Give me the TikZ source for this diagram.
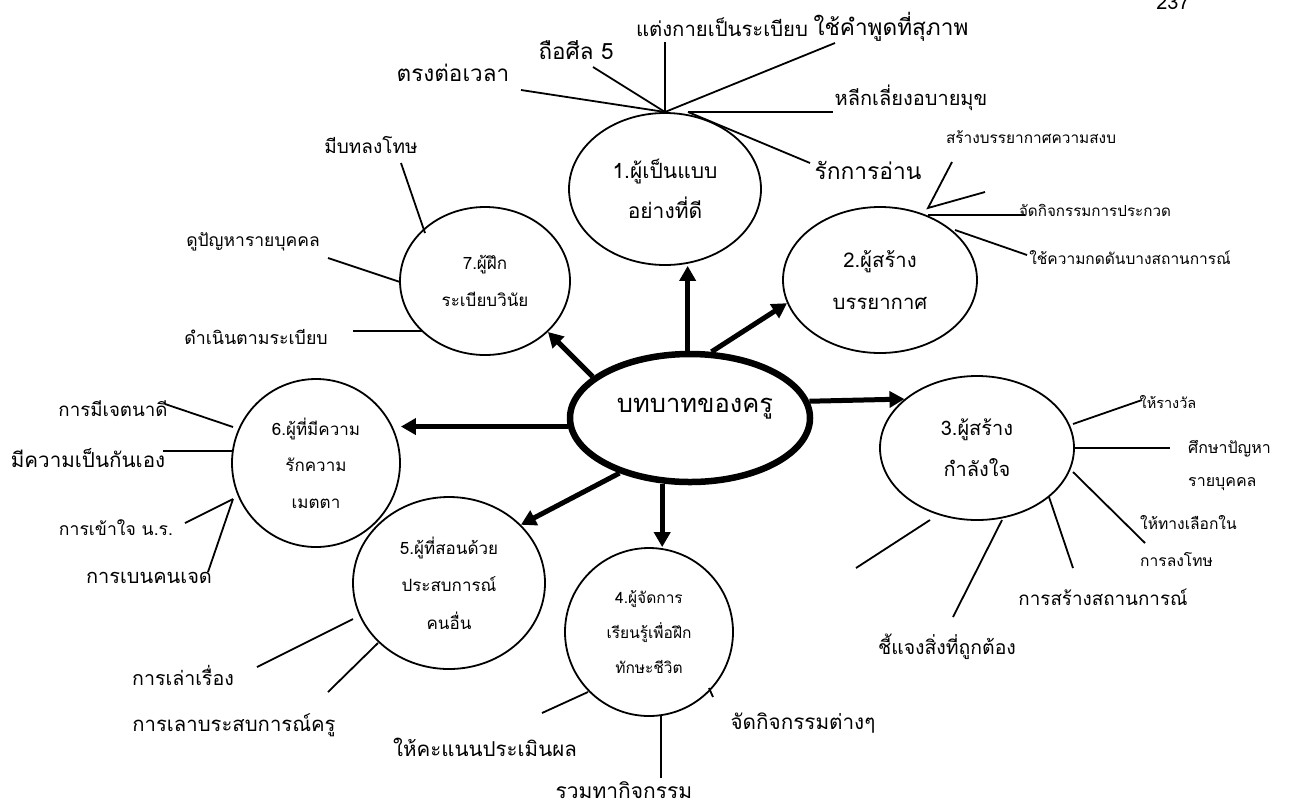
\documentclass[tikz,border=0pt]{standalone}
\usepackage{fontspec}
\newfontfamily\thai[Script=Thai]{Loma}
\newcommand\thf[2]{\thai\fontsize{#1}{#2}\selectfont}
\usetikzlibrary{shapes.geometric,arrows.meta,calc}
\tikzset{
  spoke/.style={line width=1.8pt},
  role/.style={draw, ellipse, line width=1.8pt, inner sep=0pt, align=center},
  arr/.style={line width=5pt, -{Triangle[length=15pt,width=16pt]}},
  lab/.style={inner sep=0pt, align=center},
  fs/.style={font=\thf{#1}{26}},
}
\begin{document}
\begin{tikzpicture}[x=1pt,y=-1pt]
\useasboundingbox (0,0) rectangle (1289,807);
% page number
\node[lab,fs=20] (pg) at (1173,2) {237};
% central node
\node[draw, ellipse, line width=6.5pt, minimum width=240pt, minimum height=128pt, inner sep=0pt] (c) at (690,418) {};
\node[lab,fs=25.5] (ct) at (695,409) {บทบาทของครู};
% role ellipses
\node[role,font=\thf{21}{40},minimum width=192pt,minimum height=152pt] (e1) at (665,189) {1.ผู้เป็นแบบ\\อย่างที่ดี};
\node[role,font=\thf{20.3}{42},minimum width=194pt,minimum height=146pt] (e2) at (880,280) {2.ผู้สร้าง\\บรรยากาศ};
\node[role,font=\thf{20}{41},minimum width=194pt,minimum height=144pt] (e3) at (977,448) {3.ผู้สร้าง\\กำลังใจ};
\node[role,font=\thf{15.5}{35},minimum width=168pt,minimum height=168pt] (e4) at (649,632) {4.ผู้จัดการ\\เรียนรู้เพื่อฝึก\\ทักษะชีวิต};
\node[role,font=\thf{17}{37.5},minimum width=192pt,minimum height=172pt] (e5) at (449,583) {5.ผู้ที่สอนด้วย\\ประสบการณ์\\คนอื่น};
\node[role,font=\thf{17}{36.5},minimum width=168pt,minimum height=168pt] (e6) at (316,463) {6.ผู้ที่มีความ\\รักความ\\เมตตา};
\node[role,font=\thf{17}{37},minimum width=170pt,minimum height=148pt] (e7) at (485,281) {7.ผู้ฝึก\\ระเบียบวินัย};
% arrows
\draw[arr] (c.92) -- (c.92 |- e1.south);
\draw[arr] (c.72) -- (e2.194);
\draw[arr] (c.8) -- (e3.146);
\draw[arr] (c.247) -- (c.247 |- e4.north);
\draw[arr] (c.218) -- (e5.39);
\draw[arr] (c.184) -- (c.184 -| e6.east);
\draw[arr] (c.157) -- (e7.-39.5);
% labels around 1
\node[lab,fs=22.5] (t11) at (453,73) {ตรงต่อเวลา};
\node[lab,fs=22.4] (t12) at (576,50) {ถือศีล 5};
\node[lab,fs=20.3] (t13) at (722,27) {แต่งกายเป็นระเบียบ};
\node[lab,fs=22.6] (t14) at (891,27) {ใช้คำพูดที่สุภาพ};
\node[lab,fs=20] (t15) at (911,98) {หลีกเลี่ยงอบายมุข};
\node[lab,fs=22.8] (t16) at (868,170) {รักการอ่าน};
\coordinate (h1) at (665,112);
\coordinate (h1b) at (688,112);
\coordinate (s11) at (521,90);
\coordinate (s12) at (593,67);
\coordinate (s13) at (665,42);
\coordinate (s14) at (835,43);
\coordinate (s15) at (833,112);
\coordinate (s16) at (810,163);
\draw[spoke] (s11) -- (h1);
\draw[spoke] (s12) -- (h1);
\draw[spoke] (s13) -- (h1);
\draw[spoke] (s14) -- (h1);
\draw[spoke] (h1b) -- (s15);
\draw[spoke] (h1b) -- (s16);
% labels around 2
\node[lab,fs=15.4] (t21) at (1031,137) {สร้างบรรยากาศความสงบ};
\node[lab,fs=15.2] (t22) at (1095,210) {จัดกิจกรรมการประกวด};
\node[lab,fs=15.5] (t23) at (1130,258) {ใช้ความกดดันบางสถานการณ์};
\coordinate (h2) at (928,208);
\coordinate (s21) at (952,162);
\coordinate (s22) at (985,192);
\coordinate (s23a) at (928,215);
\coordinate (s23) at (1025,215);
\coordinate (s24a) at (955,230);
\coordinate (s24) at (1027,255);
\draw[spoke] (s21) -- (h2) -- (s22);
\draw[spoke] (s23a) -- (s23);
\draw[spoke] (s24a) -- (s24);
% labels around 3
\node[lab,fs=14.5] (t31) at (1168,402) {ให้รางวัล};
\node[lab,font=\thf{16}{33},anchor=west,align=left] (t32) at (1188,466) {ศึกษาปัญหา\\รายบุคคล};
\node[lab,font=\thf{15.6}{37},anchor=west,align=left] (t33) at (1140,541) {ให้ทางเลือกใน\\การลงโทษ};
\node[lab,fs=18.8] (t34) at (1103,597) {การสร้างสถานการณ์};
\node[lab,fs=19.4] (t35) at (947,647) {ชี้แจงสิ่งที่ถูกต้อง};
\coordinate (a31) at (1073,424); \coordinate (s31) at (1142,400);
\coordinate (a32) at (1073,448); \coordinate (s32) at (1170,448);
\coordinate (a33) at (1073,472); \coordinate (s33) at (1145,543);
\coordinate (a34) at (1049,497); \coordinate (s34) at (1073,568);
\coordinate (a35) at (1002,520); \coordinate (s35) at (953,617);
\coordinate (a36) at (930,520); \coordinate (s36) at (856,568);
\draw[spoke] (a31) -- (s31);
\draw[spoke] (a32) -- (s32);
\draw[spoke] (a33) -- (s33);
\draw[spoke] (a34) -- (s34);
\draw[spoke] (a35) -- (s35);
\draw[spoke] (a36) -- (s36);
% labels around 4
\node[lab,fs=20.5] (t41) at (485,747) {ให้คะแนนประเมินผล};
\node[lab,fs=21] (t42) at (624,790) {รวมทากิจกรรม};
\node[lab,fs=20.7] (t43) at (803,723) {จัดกิจกรรมต่างๆ};
\coordinate (a41) at (588,692); \coordinate (s41) at (542,713);
\coordinate (a42) at (661,715); \coordinate (s42) at (661,778);
\coordinate (a43) at (709,688); \coordinate (s43) at (713,697);
\draw[spoke] (a41) -- (s41);
\draw[spoke] (a42) -- (s42);
\draw[spoke] (a43) -- (s43);
% labels around 5
\node[lab,fs=19.6] (t51) at (183,675) {การเล่าเรื่อง};
\node[lab,fs=20.3] (t52) at (234,725) {การเลาบระสบการณ์ครู};
\coordinate (a51) at (353,619); \coordinate (s51) at (257,667);
\coordinate (a52) at (378,643); \coordinate (s52) at (328,692);
\draw[spoke] (a51) -- (s51);
\draw[spoke] (a52) -- (s52);
% labels around 6
\node[lab,fs=18.7] (t61) at (113,409) {การมีเจตนาดี};
\node[lab,fs=20.6] (t62) at (88,458) {มีความเป็นกันเอง};
\node[lab,fs=17.6] (t63) at (116,528) {การเข้าใจ น.ร.};
\node[lab,fs=20] (t64) at (149,578) {การเบนคนเจด};
\coordinate (a61) at (233,427); \coordinate (s61) at (165,404);
\coordinate (a62) at (232,451); \coordinate (s62) at (163,451);
\coordinate (a63) at (233,499); \coordinate (s63) at (185,523);
\coordinate (s64) at (208,572);
\draw[spoke] (a61) -- (s61);
\draw[spoke] (a62) -- (s62);
\draw[spoke] (a63) -- (s63);
\draw[spoke] (a63) -- (s64);
% labels around 7
\node[lab,fs=19] (t71) at (371,145) {มีบทลงโทษ};
\node[lab,fs=17.5] (t72) at (253,242) {ดูปัญหารายบุคคล};
\node[lab,fs=17.8] (t73) at (256,337) {ดำเนินตามระเบียบ};
\coordinate (a71) at (425,233); \coordinate (s71) at (401,163);
\coordinate (a72) at (400,282); \coordinate (s72) at (328,258);
\coordinate (a73) at (422,331); \coordinate (s73) at (353,331);
\draw[spoke] (a71) -- (s71);
\draw[spoke] (a72) -- (s72);
\draw[spoke] (a73) -- (s73);
\end{tikzpicture}
\end{document}
